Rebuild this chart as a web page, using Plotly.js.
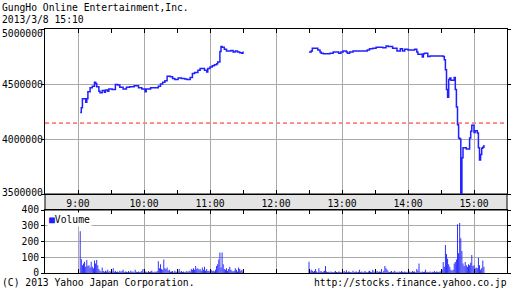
<!DOCTYPE html>
<html>
<head>
<meta charset="utf-8">
<script src="https://cdn.plot.ly/plotly-3.0.1.min.js"></script>
<style>html,body{margin:0;padding:0;background:#fff;}#chart{width:512px;height:301px;}</style>
</head>
<body>
<div id="chart"></div>
<script>
const chartTitle = 'GungHo Online Entertainment,Inc.';
const chartSubtitle = '2013/3/8 15:10';
const copyrightText = '(C) 2013 Yahoo Japan Corporation.';
const sourceText = 'http://stocks.finance.yahoo.co.jp';
const tradeDate = '2013-03-08';

const amTimes = ['09:02','09:03','09:04','09:07','09:08','09:09','09:11','09:13','09:15','09:16','09:17','09:19','09:20','09:22','09:24','09:25','09:27','09:28','09:31','09:34','09:36','09:38','09:41','09:44','09:47','09:51','09:55','09:58','10:01','10:02','10:06','10:13','10:15','10:17','10:19','10:21','10:24','10:26','10:28','10:31','10:34','10:37','10:39','10:42','10:44','10:46','10:49','10:51','10:55','10:57','10:58','11:00','11:02','11:04','11:06','11:07','11:09','11:10','11:11','11:13','11:15','11:17','11:19','11:21','11:23','11:25','11:27','11:29','11:30'];
const amPrices = [4240000,4285000,4365000,4335000,4365000,4430000,4465000,4480000,4515000,4505000,4475000,4435000,4420000,4440000,4425000,4445000,4435000,4455000,4450000,4495000,4490000,4470000,4455000,4470000,4475000,4485000,4465000,4455000,4430000,4455000,4465000,4480000,4500000,4515000,4530000,4570000,4565000,4550000,4540000,4555000,4550000,4545000,4540000,4560000,4595000,4605000,4625000,4640000,4625000,4610000,4640000,4655000,4665000,4675000,4685000,4700000,4795000,4840000,4835000,4815000,4800000,4800000,4805000,4790000,4800000,4790000,4785000,4780000,4795000];

const pmTimes = ['12:30','12:32','12:33','12:36','12:38','12:40','12:41','12:43','12:49','12:52','12:57','12:59','13:01','13:04','13:05','13:07','13:10','13:23','13:25','13:28','13:31','13:37','13:40','13:42','13:46','13:50','13:53','13:55','13:57','14:00','14:06','14:08','14:09','14:13','14:14','14:15','14:18','14:20','14:32','14:33','14:34','14:35','14:36','14:37','14:38','14:39','14:42','14:43','14:44','14:45','14:46','14:47','14:48','14:49','14:50','14:53','14:56','14:57','14:58','15:00','15:01','15:03','15:04','15:05','15:06','15:07','15:08','15:09'];
const pmPrices = [4790000,4800000,4825000,4825000,4810000,4790000,4780000,4775000,4780000,4790000,4780000,4790000,4800000,4790000,4780000,4790000,4800000,4810000,4820000,4825000,4835000,4830000,4845000,4840000,4825000,4800000,4820000,4800000,4815000,4810000,4815000,4790000,4770000,4745000,4775000,4780000,4750000,4755000,4750000,4720000,4630000,4450000,4380000,4540000,4555000,4535000,4560000,4450000,4290000,4130000,4010000,4000000,3450000,3830000,3920000,3910000,4010000,4070000,4125000,4060000,4075000,4055000,3920000,3810000,3860000,3915000,3925000,3945000];

const prevClose = 4145000;

// volume per minute, morning from 09:02, afternoon from 12:30
const amVolStart = '09:02';
const amVolumes = [
 265,88,50,60,72,40,82,45,50,35,
 72,40,30,80,60,82,50,25,15,10,
 35,12,8,15,10,20,8,12,6,10,
 30,8,12,6,10,5,15,8,12,20,
 6,10,8,5,12,6,15,8,10,5,
 20,8,6,10,5,8,12,25,6,10,
 8,5,12,6,10,15,8,5,10,6,
 12,75,30,55,25,20,85,30,25,35,
 15,20,8,10,12,5,15,8,6,10,
 25,8,12,6,10,5,8,12,6,15,
 10,25,20,30,20,45,25,30,20,25,
 15,35,20,40,15,25,12,15,10,20,
 12,15,10,20,45,55,85,130,35,130,
 55,25,20,30,15,25,40,20,15,10,
 15,30,20,10,35,25,15,20,10];
const pmVolStart = '12:30';
const pmVolumes = [
 72,10,20,15,8,12,25,10,5,30,
 8,12,6,10,15,45,10,6,8,5,
 10,6,5,8,12,6,5,10,8,6,
 5,8,12,6,18,5,10,8,6,5,
 15,6,8,10,5,8,20,6,10,5,
 8,12,6,5,10,15,8,6,20,10,
 5,8,12,6,10,8,25,5,15,45,
 30,20,10,6,8,12,5,8,15,6,
 8,5,10,6,12,8,5,10,6,8,
 5,10,8,6,12,8,10,5,25,15,
 60,8,5,10,6,8,20,5,8,6,
 10,5,8,6,12,5,10,8,6,10,
 10,20,70,40,178,120,90,55,40,20,
 15,20,60,70,85,310,125,317,220,140,
 60,45,70,50,40,55,50,65,115,45,
 50,30,35,30,97,50,20,30,80,40];

const priceTicks = [3500000,4000000,4500000,5000000];
const volTicks = [0,100,200,300,400];
const xStart = '08:30', xEnd = '15:30', firstHour = '09:00';

function t(hm){ return tradeDate + ' ' + hm + ':00'; }
function minuteSeq(start, n){
  const p = start.split(':'); const base = (+p[0])*60 + (+p[1]); const out = [];
  for (let i=0;i<n;i++){ const m = base+i; const h = Math.floor(m/60), mm = m%60;
    out.push(t(String(h).padStart(2,'0')+':'+String(mm).padStart(2,'0'))); }
  return out;
}

const blue = '#2020ff';
const grid = '#aaaaaa';
const mono = 'DejaVu Sans Mono, monospace';
const fs = 9.7;
const volTop = (273-210)/244, mainBottom = (273-194)/244;
const leftEdge = -45/462;

const traces = [
  {x: amTimes.map(t), y: amPrices, type:'scatter', mode:'lines', line:{shape:'hv', color:blue, width:1.5}, xaxis:'x', yaxis:'y', showlegend:false, hoverinfo:'skip'},
  {x: pmTimes.map(t), y: pmPrices, type:'scatter', mode:'lines', line:{shape:'hv', color:blue, width:1.5}, xaxis:'x', yaxis:'y', showlegend:false, hoverinfo:'skip'},
  {x: minuteSeq(amVolStart, amVolumes.length).concat(minuteSeq(pmVolStart, pmVolumes.length)),
   y: amVolumes.concat(pmVolumes), type:'bar', marker:{color:blue, line:{width:0}}, width:50000,
   xaxis:'x2', yaxis:'y2', showlegend:false, hoverinfo:'skip'}
];

const xCommon = {
  type:'date', range:[t(xStart), t(xEnd)], tick0:t(firstHour), dtick:3600000, tickformat:'%-H:%M',
  showgrid:true, gridcolor:grid, gridwidth:1, ticks:'inside', ticklen:4, tickcolor:'#000', tickwidth:1,
  showline:true, linecolor:'#000', linewidth:1, mirror:'ticks', zeroline:false,
  minor:{dtick:1800000, tick0:t(xStart), ticks:'inside', ticklen:4, tickcolor:'#000', showgrid:false},
  tickfont:{family:mono, size:fs, color:'#000'}, fixedrange:true
};

const txt = {family:mono, size:fs, color:'#000'};
const annotations = [
  {xref:'paper', yref:'paper', x:leftEdge, y:(273-7)/244, xanchor:'left', yanchor:'middle', text:chartTitle, showarrow:false, font:txt},
  {xref:'paper', yref:'paper', x:leftEdge, y:(273-19)/244, xanchor:'left', yanchor:'middle', text:chartSubtitle, showarrow:false, font:txt},
  {xref:'paper', yref:'paper', x:leftEdge, y:(273-282)/244, xanchor:'left', yanchor:'middle', text:copyrightText, showarrow:false, font:txt},
  {xref:'paper', yref:'paper', x:1+2/462, y:(273-282)/244, xanchor:'right', yanchor:'middle', text:sourceText, showarrow:false, font:txt},
  {xref:'paper', yref:'paper', x:0, xshift:2, y:volTop, yshift:-2, xanchor:'left', yanchor:'top',
   text:'<span style="color:'+blue+'">■</span>Volume', showarrow:false, bgcolor:'#fff', borderpad:1, font:txt}
];
const pMax = Math.max(...priceTicks), pMin = Math.min(...priceTicks);
priceTicks.forEach(v => annotations.push({xref:'paper', yref:'y', x:leftEdge, y:v, xanchor:'left', yanchor:'middle',
  yshift: v===pMax ? -4 : (v===pMin ? 2 : 0), text:String(v), showarrow:false, font:txt}));

const layout = {
  width:512, height:301, margin:{l:45, r:5, t:29, b:28, pad:0},
  paper_bgcolor:'#fff', plot_bgcolor:'#fff', showlegend:false,
  font:txt,
  xaxis: Object.assign({}, xCommon, {domain:[0,1], anchor:'y'}),
  xaxis2: Object.assign({}, xCommon, {domain:[0,1], anchor:'y2', showticklabels:false}),
  yaxis: {domain:[mainBottom,1], anchor:'x', range:[pMin,pMax], tickvals:priceTicks, showticklabels:false,
    showgrid:true, gridcolor:grid, ticks:'outside', ticklen:3, tickcolor:'#000', showline:true, linecolor:'#000', mirror:'ticks', zeroline:false, fixedrange:true},
  yaxis2: {domain:[0,volTop], anchor:'x2', range:[0,400], tickvals:volTicks, tickfont:txt,
    showgrid:true, gridcolor:grid, ticks:'outside', ticklen:3, tickcolor:'#000', showline:true, linecolor:'#000', mirror:'ticks', zeroline:false, fixedrange:true},
  shapes: [
    {type:'rect', xref:'paper', yref:'paper', x0:0, x1:1, y0:volTop, y1:mainBottom, fillcolor:'#e4e4e4', line:{color:'#000', width:1}, layer:'below'},
    {type:'line', xref:'paper', yref:'y', x0:0, x1:1, y0:prevClose, y1:prevClose, line:{color:'#ff1a1a', width:1, dash:'4px,3px'}, layer:'between'}
  ],
  annotations: annotations
};

Plotly.newPlot('chart', traces, layout, {displayModeBar:false, staticPlot:true});
</script>
</body>
</html>
